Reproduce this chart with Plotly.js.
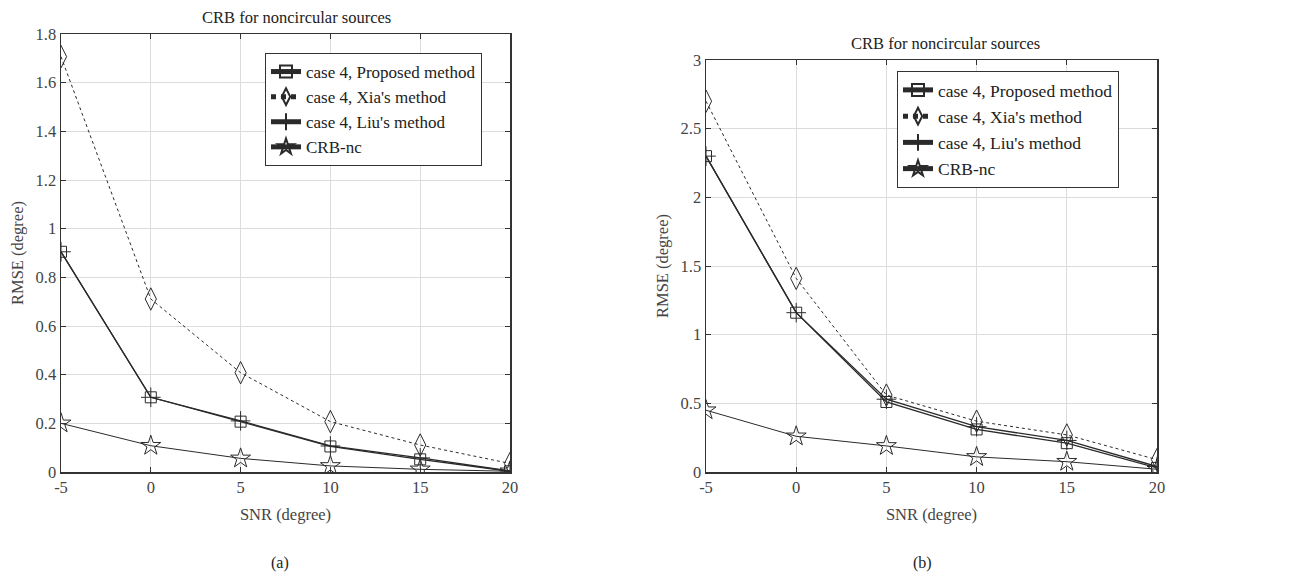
<!DOCTYPE html>
<html>
<head>
<meta charset="utf-8">
<script src="https://cdn.plot.ly/plotly-3.0.1.min.js"></script>
<style>html,body{margin:0;padding:0;background:#fff;}#chart{width:1297px;height:575px;}</style>
</head>
<body>
<div id="chart"></div>
<script>
const snr = [-5, 0, 5, 10, 15, 20];
const seriesNames = ["case 4, Proposed method", "case 4, Xia's method", "case 4, Liu's method", "CRB-nc"];

// Panel (a)
const aProposed = [0.905, 0.307, 0.207, 0.105, 0.052, 0.003];
const aXia      = [1.707, 0.711, 0.408, 0.207, 0.111, 0.035];
const aLiu      = [0.905, 0.307, 0.210, 0.107, 0.058, 0.004];
const aCRB      = [0.200, 0.108, 0.056, 0.025, 0.011, 0.003];

// Panel (b)
const bProposed = [2.30, 1.16, 0.51, 0.31, 0.21, 0.03];
const bXia      = [2.70, 1.41, 0.56, 0.37, 0.27, 0.09];
const bLiu      = [2.30, 1.16, 0.53, 0.33, 0.23, 0.04];
const bCRB      = [0.45, 0.26, 0.19, 0.11, 0.075, 0.02];

const FONT = "Liberation Serif, Times New Roman, serif";
const INK = "#2a2a2a";
const TXT = "#444";

const styles = [
  {dash: "solid", symbol: "square-open", size: 11, width: 1.3},
  {dash: "dot", symbol: "diamond-tall-open", size: 16, width: 1},
  {dash: "solid", symbol: "cross-thin-open", size: 14, width: 1.3},
  {dash: "solid", symbol: "star-open", size: 15, width: 1}
];

function traces(vals, xa, ya, lg) {
  return vals.map((v, i) => ({
    x: snr, y: v, xaxis: xa, yaxis: ya, legend: lg, legendgroup: lg + i,
    name: seriesNames[i], type: "scatter", mode: "lines+markers",
    line: {color: INK, width: styles[i].width, dash: styles[i].dash},
    marker: {symbol: styles[i].symbol, size: styles[i].size, color: INK,
             line: {color: INK, width: 1}}
  }));
}

const data = [
  ...traces([aProposed, aXia, aLiu, aCRB], "x", "y", "legend"),
  ...traces([bProposed, bXia, bLiu, bCRB], "x2", "y2", "legend2")
];

function xax(domain, anchor) {
  return {
    domain: domain, anchor: anchor, range: [-5, 20],
    tickvals: [-5, 0, 5, 10, 15, 20], ticktext: ["-5","0","5","10","15","20"],
    showline: true, linecolor: "#333", linewidth: 1.5, mirror: "allticks",
    ticks: "inside", ticklen: 5, tickcolor: "#333",
    showgrid: true, gridcolor: "#dcdcdc", gridwidth: 1, zeroline: false,
    tickfont: {family: FONT, size: 16.5, color: TXT},
    title: {text: "SNR (degree)", font: {family: FONT, size: 16.5, color: TXT}, standoff: 12}
  };
}
function yax(domain, anchor, range, dtick) {
  return {
    domain: domain, anchor: anchor, range: range, dtick: dtick,
    showline: true, linecolor: "#333", linewidth: 1.5, mirror: "allticks",
    ticks: "inside", ticklen: 5, tickcolor: "#333",
    showgrid: true, gridcolor: "#dcdcdc", gridwidth: 1, zeroline: false,
    tickfont: {family: FONT, size: 16.5, color: TXT},
    title: {text: "RMSE (degree)", font: {family: FONT, size: 16.5, color: TXT}, standoff: 8}
  };
}

const legendBase = {
  bgcolor: "#fff", bordercolor: "#333", borderwidth: 1,
  xanchor: "left", yanchor: "top", itemsizing: "constant"
};

const layout = {
  width: 1297, height: 575,
  paper_bgcolor: "#fff", plot_bgcolor: "#fff",
  margin: {l: 0, r: 0, t: 0, b: 0},
  showlegend: true,
  xaxis: xax([61/1297, 510/1297], "y"),
  yaxis: yax([1 - 472/575, 1 - 34/575], "x", [0, 1.8], 0.2),
  xaxis2: xax([706/1297, 1157/1297], "y2"),
  yaxis2: yax([1 - 472/575, 1 - 60/575], "x2", [0, 3], 0.5),
  legend: Object.assign({}, legendBase, {x: 265/1297, y: 1 - 53/575,
    font: {family: FONT, size: 17, color: "#222"}, tracegroupgap: 0}),
  legend2: Object.assign({}, legendBase, {x: 897/1297, y: 1 - 71/575,
    font: {family: FONT, size: 17.5, color: "#222"}, tracegroupgap: 0.5}),
  annotations: [
    {text: "CRB for noncircular sources", xref: "paper", yref: "paper",
     x: 296/1297, y: 1 - 17/575, showarrow: false, xanchor: "center", yanchor: "middle",
     font: {family: FONT, size: 16.5, color: "#222"}},
    {text: "CRB for noncircular sources", xref: "paper", yref: "paper",
     x: 945/1297, y: 1 - 43/575, showarrow: false, xanchor: "center", yanchor: "middle",
     font: {family: FONT, size: 16.5, color: "#222"}},
    {text: "(a)", xref: "paper", yref: "paper",
     x: 280/1297, y: 1 - 563/575, showarrow: false, xanchor: "center", yanchor: "middle",
     font: {family: FONT, size: 16, color: "#222"}},
    {text: "(b)", xref: "paper", yref: "paper",
     x: 922/1297, y: 1 - 563/575, showarrow: false, xanchor: "center", yanchor: "middle",
     font: {family: FONT, size: 16, color: "#222"}}
  ]
};

Plotly.newPlot("chart", data, layout, {displayModeBar: false, staticPlot: true});
</script>
</body>
</html>
